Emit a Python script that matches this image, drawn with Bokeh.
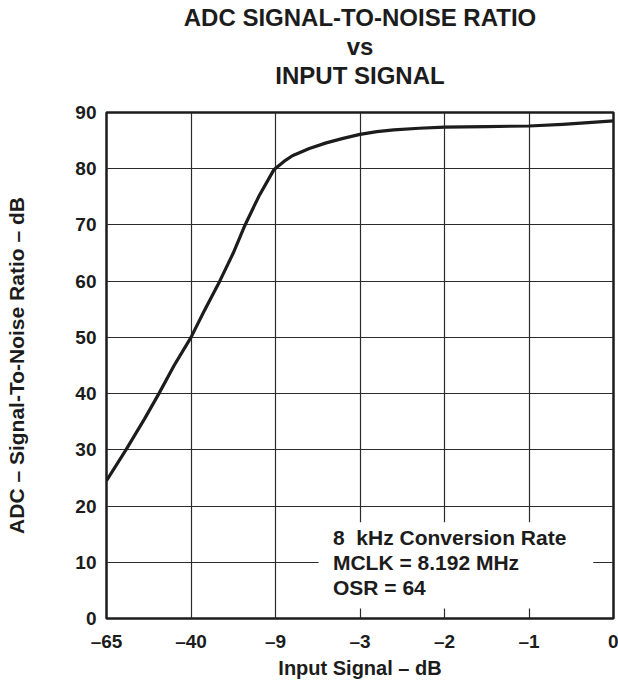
from bokeh.plotting import figure
from bokeh.models import Range1d, FixedTicker, Label, BoxAnnotation, Title
from bokeh.embed import file_html
from bokeh.resources import INLINE

# ---- data ----
x_tick_pos = [0, 1, 2, 3, 4, 5, 6]
x_tick_labels = ["–65", "–40", "–9", "–3", "–2", "–1", "0"]
y_ticks = [0, 10, 20, 30, 40, 50, 60, 70, 80, 90]

# curve position along the (evenly spaced) category axis, and SNR in dB
snr_x = [0, 0.23, 0.45, 0.62, 0.8, 1.0, 1.15, 1.34, 1.5, 1.64, 1.8, 1.98,
         2.1, 2.2, 2.4, 2.6, 2.8, 3.0, 3.2, 3.4, 3.7, 4.0, 4.5, 5.0, 5.4,
         5.7, 6.0]
snr_y = [24.5, 30, 35.5, 40, 45, 50, 54.5, 60, 65, 70, 75, 79.8,
         81.3, 82.3, 83.6, 84.6, 85.4, 86.1, 86.6, 86.9, 87.2, 87.4, 87.5,
         87.6, 87.9, 88.2, 88.5]

title_lines = ["ADC SIGNAL-TO-NOISE RATIO", "vs", "INPUT SIGNAL"]
note_lines = ["8\u00a0 kHz Conversion Rate", "MCLK = 8.192 MHz", "OSR = 64"]

FONT = "Liberation Sans"
INK = "#1c1c1c"

p = figure(frame_width=507, frame_height=506,
           min_border_left=106, min_border_right=5,
           min_border_top=112, min_border_bottom=65,
           x_range=Range1d(0, 6), y_range=Range1d(0, 90),
           output_backend="svg", toolbar_location=None,
           background_fill_color="white", border_fill_color="white")

p.outline_line_color = INK
p.outline_line_width = 2.5

for ax in (p.xaxis, p.yaxis):
    ax.axis_line_color = None
    ax.major_tick_line_color = None
    ax.minor_tick_line_color = None
    ax.major_label_text_font = FONT
    ax.major_label_text_font_style = "bold"
    ax.major_label_text_font_size = "19px"
    ax.major_label_text_color = INK
    ax.axis_label_text_font = FONT
    ax.axis_label_text_font_style = "bold"
    ax.axis_label_text_color = INK

p.xaxis.ticker = FixedTicker(ticks=x_tick_pos)
p.xaxis.major_label_overrides = {t: s for t, s in zip(x_tick_pos, x_tick_labels)}
p.xaxis.major_label_standoff = 6
p.xaxis.axis_label = "Input Signal – dB"
p.xaxis.axis_label_text_font_size = "20px"
p.xaxis.axis_label_standoff = 2

p.yaxis.ticker = FixedTicker(ticks=y_ticks)
p.yaxis.major_label_standoff = 4
p.yaxis.axis_label = "ADC – Signal-To-Noise Ratio – dB"
p.yaxis.axis_label_text_font_size = "21px"
p.yaxis.axis_label_standoff = 44

p.xgrid.ticker = FixedTicker(ticks=x_tick_pos)
p.ygrid.ticker = FixedTicker(ticks=y_ticks)
for g in (p.xgrid, p.ygrid):
    g.grid_line_color = "#2b2b2b"
    g.grid_line_width = 1.2

p.line(snr_x, snr_y, line_color=INK, line_width=3.2, line_join="round")

# white box behind the conditions note
p.add_layout(BoxAnnotation(left=2.51, right=5.76, bottom=1.8, top=17.1,
                           fill_color="white", fill_alpha=1.0, line_color=None))
for i, t in enumerate(note_lines):
    p.add_layout(Label(x=2.68, y=14.4 - i * 4.45, text=t,
                       text_font=FONT, text_font_style="bold",
                       text_font_size="21px", text_color=INK,
                       text_baseline="middle", text_align="left"))

# empty spacer between the plot and the title block
p.add_layout(Title(text=" ", standoff=0, text_font=FONT,
                   text_font_size="20px"), "above")
# title lines: the first added sits closest to the plot
for t in reversed(title_lines):
    p.add_layout(Title(text=t, align="center", standoff=0,
                       text_font=FONT, text_font_style="bold",
                       text_font_size="24px", text_color=INK), "above")

open("out.html", "w").write(file_html(p, INLINE))
